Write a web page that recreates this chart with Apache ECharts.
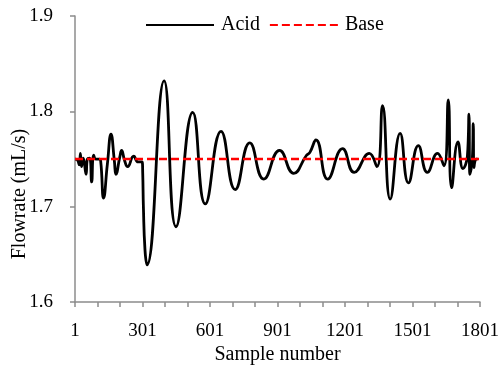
<!DOCTYPE html>
<html>
<head>
<meta charset="utf-8">
<script src="https://cdn.jsdelivr.net/npm/echarts@6/dist/echarts.min.js"></script>
<style>
html,body{margin:0;padding:0;background:#fff;}
#chart{width:502px;height:370px;}
</style>
</head>
<body>
<div id="chart"></div>
<script>
// ---- data ----
const xTickLabels = [1, 301, 601, 901, 1201, 1501, 1801];
const yTickLabels = [1.6, 1.7, 1.8, 1.9];
const seriesNames = ["Acid", "Base"];

const acidSamples = [1,12,20,25,30,38,50,56,66,75,84,94,108,115,128,145,161,176,183,200,208,222,235,262,281,299,302,305,312,321,397,450,524,580,650,713,778,840,910,973,1030,1045,1072,1124,1190,1242,1309,1343,1368,1402,1446,1483,1527,1567,1612,1641,1660,1675,1703,1725,1745,1752,1756,1767,1771,1774,1784,1790];
const acidValues  = [1.750,1.749,1.744,1.756,1.742,1.751,1.734,1.750,1.751,1.726,1.754,1.750,1.750,1.748,1.709,1.745,1.776,1.748,1.734,1.752,1.759,1.748,1.742,1.753,1.747,1.747,1.735,1.700,1.655,1.639,1.832,1.679,1.799,1.703,1.779,1.718,1.767,1.729,1.759,1.735,1.754,1.757,1.770,1.729,1.761,1.736,1.756,1.742,1.806,1.708,1.777,1.725,1.764,1.736,1.756,1.743,1.812,1.720,1.768,1.740,1.753,1.797,1.734,1.750,1.787,1.741,1.750,1.750];

const baseSamples = [1, 1801];
const baseValues  = [1.75, 1.75];

const zip = (xs, ys) => xs.map((x, i) => [x, ys[i]]);

const chart = echarts.init(document.getElementById('chart'), null, {renderer: 'canvas'});
const FONT = '"Liberation Serif", "Times New Roman", serif';
const axisGrey = '#8c8c8c';

chart.setOption({
  animation: false,
  backgroundColor: '#ffffff',
  textStyle: {fontFamily: FONT, color: '#000'},
  grid: {left: 75, right: 21, top: 16, bottom: 67, containLabel: false},
  legend: {
    left: 140, top: 10,
    itemWidth: 68, itemHeight: 14, itemGap: 9,
    itemStyle: {opacity: 0, borderWidth: 0},
    textStyle: {fontFamily: FONT, fontSize: 20, color: '#000', padding: [0,0,0,2]},
    data: seriesNames
  },
  xAxis: {
    type: 'value', min: 1, max: 1801, interval: 300,
    name: 'Sample number', nameLocation: 'middle', nameGap: 41,
    nameTextStyle: {fontFamily: FONT, fontSize: 20, color: '#000'},
    axisLine: {show: true, lineStyle: {color: axisGrey, width: 1.5}},
    axisTick: {show: true, length: 5, lineStyle: {color: axisGrey, width: 1.5}},
    minorTick: {show: true, splitNumber: 3, length: 5, lineStyle: {color: axisGrey, width: 1.5}},
    splitLine: {show: false},
    axisLabel: {fontFamily: FONT, fontSize: 19, color: '#000', margin: 19,
      formatter: v => xTickLabels.includes(v) ? String(v) : ''}
  },
  yAxis: {
    type: 'value', min: 1.6, max: 1.9, interval: 0.1,
    axisLine: {show: true, lineStyle: {color: axisGrey, width: 1.5}},
    axisTick: {show: true, length: 5, lineStyle: {color: axisGrey, width: 1.5}},
    splitLine: {show: false},
    axisLabel: {fontFamily: FONT, fontSize: 19, color: '#000', margin: 22,
      formatter: v => {
        const t = yTickLabels.find(y => Math.abs(y - v) < 1e-6);
        return t === undefined ? '' : t.toFixed(1);
      }}
  },
  graphic: [{
    type: 'text', x: 20, y: 194, rotation: Math.PI / 2,
    style: {text: 'Flowrate (mL/s)', fontFamily: FONT, fontSize: 20, fill: '#000',
      align: 'center', verticalAlign: 'middle'}
  }],
  series: [
    {
      name: seriesNames[0], type: 'line', data: zip(acidSamples, acidValues),
      smooth: 0.5, symbol: 'none',
      lineStyle: {color: '#000000', width: 2.8},
      itemStyle: {color: '#000000'},
      z: 2
    },
    {
      name: seriesNames[1], type: 'line', data: zip(baseSamples, baseValues),
      symbol: 'none',
      lineStyle: {color: '#ff0000', width: 2.5, type: [8, 4]},
      itemStyle: {color: '#ff0000'},
      z: 3
    }
  ]
});
</script>
</body>
</html>
